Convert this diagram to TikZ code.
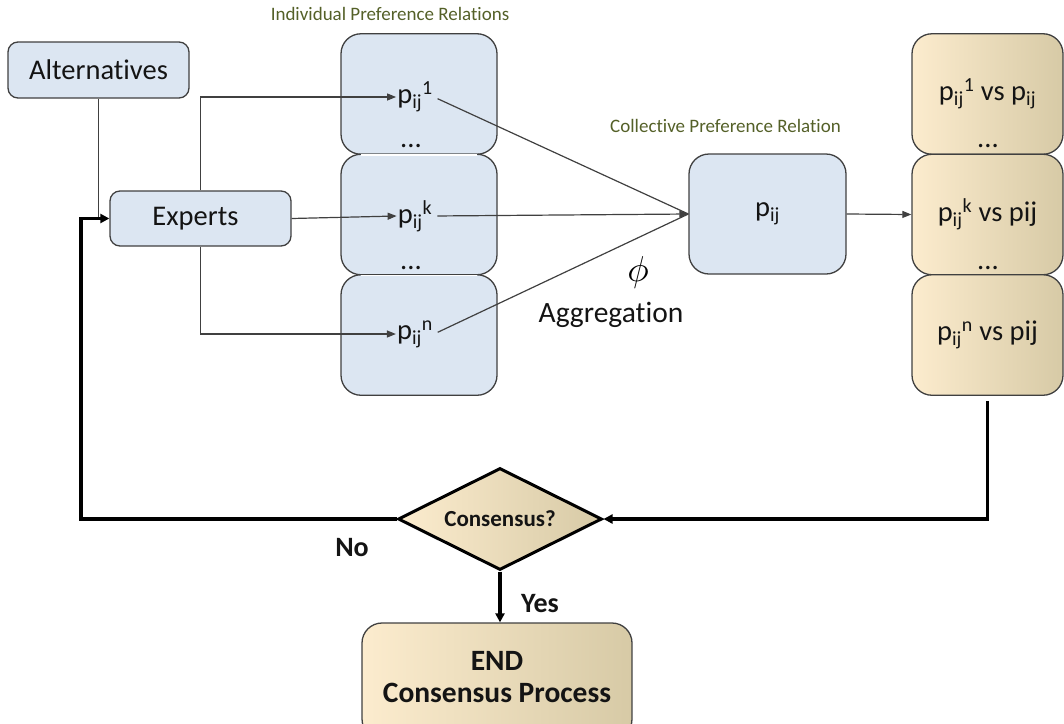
\documentclass[tikz,border=0pt]{standalone}
\usepackage{fontspec}
\setmainfont{Carlito}[Ligatures=NoCommon]
\usetikzlibrary{shapes.geometric,arrows.meta,calc}

\definecolor{boxblue}{RGB}{220,230,242}
\definecolor{edgegray}{RGB}{64,64,64}
\definecolor{creamL}{RGB}{252,236,206}
\definecolor{creamM}{RGB}{242,236,220}
\definecolor{creamR}{RGB}{215,202,166}
\definecolor{labelolive}{RGB}{84,96,40}
\definecolor{ink}{RGB}{20,20,20}

\newcommand\mainsz{\fontsize{28.5}{33}\selectfont}
\newcommand\pij{p\textsubscript{ij}}

\tikzset{
  bluebox/.style={draw=edgegray, line width=1.3pt, fill=boxblue, rounded corners=#1,
                  inner sep=0pt, text=ink},
  bluebox/.default=10pt,
  creambox/.style={draw=edgegray, line width=1.3pt, rounded corners=20pt, inner sep=0pt,
                   left color=creamL, middle color=creamM, right color=creamR, text=ink},
  txt/.style={inner sep=1pt, text=ink, font=\mainsz},
  caption/.style={inner sep=0pt, text=labelolive, font=\fontsize{19}{23}\selectfont},
  line/.style={draw=edgegray, line width=1.2pt},
  conn/.style={line, -{Triangle[length=9pt,width=7pt]}},
  thickconn/.style={draw=black, line width=3.5pt, -{Triangle[length=9pt,width=9pt]}},
  seam/.style={draw=white, line width=1.6pt},
  boldlabel/.style={inner sep=1pt, text=ink, font=\fontsize{28}{32}\selectfont\bfseries}
}

\begin{document}
\begin{tikzpicture}[x=1pt,y=-1pt]
\useasboundingbox (0,0) rectangle (1064,723);

% sources
\node[bluebox, minimum width=181pt, minimum height=56pt] (alt) at (98.5,70) {\mainsz Alternatives};
\node[bluebox, minimum width=181pt, minimum height=55pt] (exp) at (200.5,218.5) {\mainsz\hspace*{-10pt}Experts};

% individual preference relations
\foreach \i/\y in {1/94,2/214.5,3/335}
  \node[bluebox=20pt, minimum width=156pt, minimum height=120.5pt] (ind\i) at (419,\y) {};
\draw[seam] ($(ind1.south west)+(21,0)$) -- ($(ind1.south east)+(-21,0)$);
\draw[seam] ($(ind2.south west)+(21,0)$) -- ($(ind2.south east)+(-21,0)$);
\node[txt] (p1) at (415,97) {\pij\textsuperscript{1}};
\node[txt] (pk) at (415,216) {\pij\textsuperscript{k}};
\node[txt] (pn) at (415,334) {\pij\textsuperscript{n}};
\node[txt] (d1) at (411,146) {...};
\node[txt] (d2) at (411,268) {...};
\node[caption] (indcap) at (390,14) {Individual Preference Relations};

% collective preference relation
\node[bluebox=20pt, minimum width=157pt, minimum height=120pt] (coll) at (767.5,214) {\mainsz\pij};
\node[caption] (collcap) at (725.5,126) {Collective Preference Relation};
\node[inner sep=0pt, scale=3.6] (phi) at (638,272) {$\phi$};
\node[txt] (agg) at (611,315) {\fontsize{29.5}{34}\selectfont Aggregation};

% comparisons
\node[creambox, minimum width=151pt, minimum height=120.5pt] (rs1) at (987.5,94) {\mainsz\pij\textsuperscript{1} vs \pij};
\node[creambox, minimum width=151pt, minimum height=120.5pt] (rs2) at (987.5,214.5) {\mainsz\pij\textsuperscript{k} vs pij};
\node[creambox, minimum width=151pt, minimum height=120.5pt] (rs3) at (987.5,335) {\mainsz\pij\textsuperscript{n} vs pij};
\node[txt] (d3) at (988,146) {...};
\node[txt] (d4) at (988,268) {...};

% decision and end
\node[diamond, aspect=2, draw=black, line width=3pt, left color=creamL, middle color=creamM, right color=creamR,
      minimum width=204pt, minimum height=102pt, inner sep=0pt, text=ink,
      font=\fontsize{23}{27}\selectfont\bfseries] (dia) at (500,519) {Consensus?};
\node[creambox, minimum width=270pt, minimum height=116pt] (end) at (497,681) {};
\node[inner sep=0pt, align=center, text=ink, font=\fontsize{29.5}{32}\selectfont\bfseries] (endtxt)
      at (497,677) {END\\Consensus Process};
\node[boldlabel] (no) at (352,548) {No};
\node[boldlabel] (yes) at (540,604) {Yes};

% connectors
\draw[line] (alt.south) -- (alt.south |- exp.west);
\draw[conn] (exp.north) |- (p1.west);
\draw[conn] (exp.east) -- (pk.west);
\draw[conn] (exp.south) |- (pn.west);
\draw[line, shorten <=4pt] (p1.east) -- (coll.west);
\draw[conn, shorten <=4pt] (pk.east) -- (coll.west);
\draw[line, shorten <=4pt] (pn.east) -- (coll.west);
\draw[conn] (coll.east) -- (rs2.west);
\draw[thickconn, shorten <=5pt] (rs3.south) |- (dia.east);
\coordinate (fb) at (81,519);
\draw[thickconn] (dia.west) -- (fb) |- (exp.west);
\draw[thickconn] (dia.south) -- (dia.south |- end.north);
\end{tikzpicture}
\end{document}
